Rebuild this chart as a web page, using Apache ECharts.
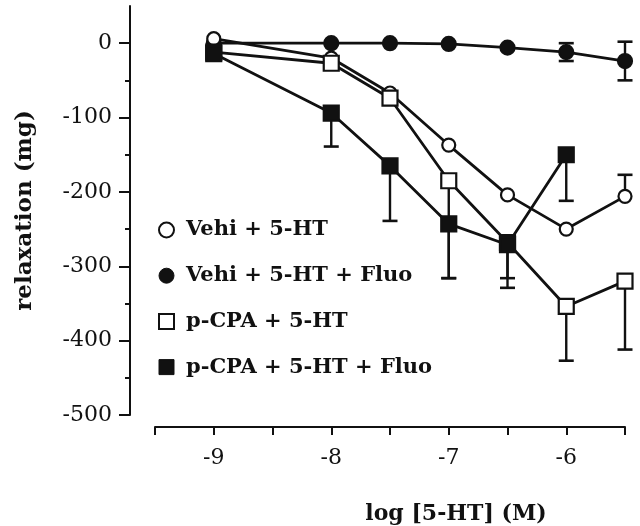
<!DOCTYPE html>
<html>
<head>
<meta charset="utf-8">
<script src="https://cdn.jsdelivr.net/npm/echarts@6/dist/echarts.min.js"></script>
<style>
html,body{margin:0;padding:0;background:#fff;}
#chart{width:640px;height:526px;}
</style>
</head>
<body>
<div id="chart"></div>
<script>
// ---- data ----
var xVals = [-9, -8, -7.5, -7, -6.5, -6, -5.5];
var xTickLabels = ['-9', '-8', '-7', '-6'];
var yTickValues = [-500, -400, -300, -200, -100, 0];

var seriesNames = ['Vehi + 5-HT', 'Vehi + 5-HT + Fluo', 'p-CPA + 5-HT', 'p-CPA + 5-HT + Fluo'];

var vehi      = [6, -20, -67, -137, -204, -250, -206];
var vehiFluo  = [0, 0, 0, -1, -6, -12, -24];
var pcpa      = [-12, -27, -74, -185, -268, -354, -320];
var pcpaFluo  = [-14, -94, -165, -243, -271, -150, null];

// error bar magnitudes (downward / upward), null = none
var vehiErrLow     = [null, null, null, null, null, null, null];
var vehiErrHigh    = [null, null, null, null, null, null, 29];
var vehiFluoErrLow = [null, null, null, null, null, 12, 26];
var vehiFluoErrHigh= [null, null, null, null, null, 12, 26];
var pcpaErrLow     = [null, null, null, 131, 61, 73, 92];
var pcpaErrHigh    = [null, null, null, null, null, null, null];
var pcpaFluoErrLow = [null, 45, 74, 73, 45, 62, null];
var pcpaFluoErrHigh= [null, null, null, null, null, null, null];

// ---- build ----
function pts(vals) {
  var out = [];
  for (var i = 0; i < xVals.length; i++) if (vals[i] !== null) out.push([xVals[i], vals[i]]);
  return out;
}
function errPts(vals, lo, hi) {
  var out = [];
  for (var i = 0; i < xVals.length; i++) {
    if (vals[i] === null) continue;
    if (lo[i] !== null) out.push([xVals[i], vals[i], vals[i] - lo[i]]);
    if (hi[i] !== null) out.push([xVals[i], vals[i], vals[i] + hi[i]]);
  }
  return out;
}
var errData = [].concat(
  errPts(vehi, vehiErrLow, vehiErrHigh),
  errPts(vehiFluo, vehiFluoErrLow, vehiFluoErrHigh),
  errPts(pcpa, pcpaErrLow, pcpaErrHigh),
  errPts(pcpaFluo, pcpaFluoErrLow, pcpaFluoErrHigh)
);

var FONT = 'DejaVu Serif';
var INK = '#111';

function lineSeries(name, vals, symbol, size, filled, z) {
  return {
    name: name, type: 'line', data: pts(vals), z: z,
    symbol: symbol, symbolSize: size, showAllSymbol: true,
    lineStyle: {color: INK, width: 2.8},
    itemStyle: {color: filled ? INK : '#fff', borderColor: INK, borderWidth: 2.2, opacity: 1},
    emphasis: {disabled: true},
    animation: false
  };
}

var chart = echarts.init(document.getElementById('chart'), null, {renderer: 'canvas'});
chart.setOption({
  backgroundColor: '#fff',
  animation: false,
  grid: {left: 155, right: 15, top: 6, bottom: 111, containLabel: false, outerBoundsMode: 'none'},
  xAxis: {
    type: 'value', min: -9.5, max: -5.5, interval: 0.5, offset: 12,
    splitLine: {show: false},
    axisLine: {show: true, onZero: false, lineStyle: {color: INK, width: 2}},
    axisTick: {show: true, inside: false, length: 8, lineStyle: {color: INK, width: 2}},
    axisLabel: {
      margin: 20, color: INK, fontFamily: FONT, fontSize: 22,
      formatter: function (v) {
        var idx = xTickLabels.indexOf(String(v));
        return idx >= 0 ? xTickLabels[idx] : '';
      }
    },
    name: 'log [5-HT] (M)', nameLocation: 'middle', nameGap: 76,
    nameTextStyle: {color: INK, fontFamily: FONT, fontWeight: 'bold', fontSize: 22, padding: [0, 0, 0, 132]}
  },
  yAxis: {
    type: 'value', min: -500, max: 50, interval: 100, offset: 25,
    splitLine: {show: false},
    axisLine: {show: true, onZero: false, lineStyle: {color: INK, width: 2}},
    axisTick: {show: true, inside: false, length: 11, customValues: yTickValues, lineStyle: {color: INK, width: 2}},
    minorTick: {show: true, splitNumber: 2, length: 5, lineStyle: {color: INK, width: 2}},
    axisLabel: {margin: 18, color: INK, fontFamily: FONT, fontSize: 22, customValues: yTickValues},
    name: 'relaxation (mg)', nameLocation: 'middle', nameGap: 93,
    nameTextStyle: {color: INK, fontFamily: FONT, fontWeight: 'bold', fontSize: 23}
  },
  legend: {
    show: true, orient: 'vertical', left: 158, top: 219, padding: 0,
    itemWidth: 15, itemHeight: 15, itemGap: 23.7,
    selectedMode: false,
    textStyle: {color: INK, fontFamily: FONT, fontWeight: 'bold', fontSize: 21, lineHeight: 22, padding: [0, 0, 0, 7]},
    data: [
      {name: seriesNames[0], icon: 'circle', itemStyle: {color: '#fff', borderColor: INK, borderWidth: 2}},
      {name: seriesNames[1], icon: 'circle', itemStyle: {color: INK, borderColor: INK, borderWidth: 1}},
      {name: seriesNames[2], icon: 'rect', itemStyle: {color: '#fff', borderColor: INK, borderWidth: 2}},
      {name: seriesNames[3], icon: 'rect', itemStyle: {color: INK, borderColor: INK, borderWidth: 1}}
    ]
  },
  series: [
    {
      type: 'custom', name: 'err', data: errData, z: 1, silent: true,
      renderItem: function (params, api) {
        var x = api.value(0);
        var p0 = api.coord([x, api.value(1)]);
        var p1 = api.coord([x, api.value(2)]);
        var half = 7.5;
        return {
          type: 'group',
          children: [
            {type: 'line', shape: {x1: p0[0], y1: p0[1], x2: p1[0], y2: p1[1]}, style: {stroke: INK, lineWidth: 2.4}},
            {type: 'line', shape: {x1: p1[0] - half, y1: p1[1], x2: p1[0] + half, y2: p1[1]}, style: {stroke: INK, lineWidth: 2.6}}
          ]
        };
      },
      animation: false
    },
    lineSeries(seriesNames[1], vehiFluo, 'circle', 14, true, 2),
    lineSeries(seriesNames[0], vehi, 'circle', 13, false, 3),
    lineSeries(seriesNames[2], pcpa, 'rect', 15, false, 4),
    lineSeries(seriesNames[3], pcpaFluo, 'rect', 15, true, 5)
  ]
});
</script>
</body>
</html>
